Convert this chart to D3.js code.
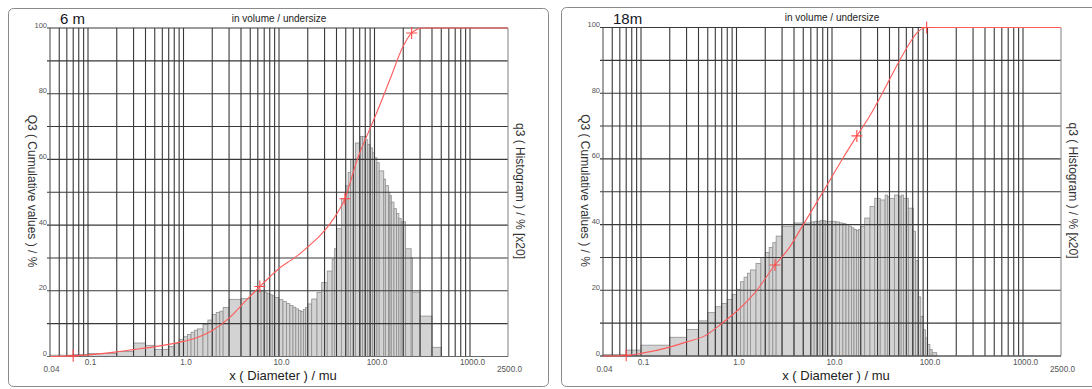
<!DOCTYPE html>
<html>
<head>
<meta charset="utf-8">
<script src="https://cdn.jsdelivr.net/npm/d3@7"></script>
<style>
  html, body { margin: 0; padding: 0; background: #fff; }
  svg { display: block; font-family: "Liberation Sans", Arial, sans-serif; }
</style>
</head>
<body>
<svg id="chart" width="1092" height="389"></svg>
<script>
// Size classes of the analyser (µm), class boundaries
const classEdges = [0.04, 0.07, 0.1, 0.2, 0.3, 0.4, 0.5, 0.6, 0.7, 0.8, 0.9, 1.0, 1.1, 1.2, 1.3, 1.4, 1.6, 1.8, 2.0, 2.2,
  2.4, 2.6, 3, 4, 5, 6, 6.5, 7, 7.5, 8, 8.5, 9, 10, 11, 12, 13, 14, 15, 16, 17,
  18, 19, 20, 22, 25, 28, 32, 36, 38, 40, 45, 50, 53, 56, 63, 71, 75, 80, 85, 90,
  95, 100, 106, 112, 125, 130, 140, 145, 150, 160, 170, 180, 190, 200, 212, 242, 250, 300, 400, 500];

// q3 histogram (x20) per class, sample at 6 m
const q3Hist6m = [0.4, 0.6, 0.9, 1.5, 4.1, 3.4, 2.1, 2.1, 3.0, 4.0, 5.1, 6.0, 6.7, 7.4, 8.0, 8.4, 9.8, 11.1, 12.8, 13.4,
  13.8, 14.9, 17.4, 17.6, 20.0, 20.2, 20.0, 19.6, 19.2, 18.8, 18.5, 18.0, 17.3, 16.7, 16.1, 15.5, 15.0, 14.5, 14.0, 13.7,
  14.3, 14.9, 16.0, 17.5, 19.5, 22.5, 26.0, 29.5, 32.8, 38.9, 48.0, 52.0, 56.0, 60.0, 65.0, 67.0, 67.0, 66.0, 64.5, 63.5,
  62.0, 60.5, 59.0, 56.5, 54.0, 52.0, 50.0, 49.0, 47.0, 45.0, 43.5, 42.0, 41.0, 41.0, 32.8, 30.0, 19.6, 12.3, 2.8];

// q3 histogram (x20) per class, sample at 18 m
const q3Hist18m = [0.4, 1.8, 3.3, 5.7, 8.1, 10.7, 13.2, 15.0, 16.0, 17.2, 18.7, 20.3, 22.6, 24.0, 25.2, 26.2, 28.2, 30.0, 31.5, 33.0,
  34.5, 36.5, 39.5, 40.5, 40.5, 40.8, 41.0, 41.0, 41.2, 41.2, 41.0, 41.0, 41.0, 40.8, 40.5, 40.3, 40.0, 39.5, 39.0, 38.5,
  38.2, 38.5, 39.5, 42.0, 45.5, 48.0, 47.5, 49.0, 48.5, 48.0, 49.0, 48.5, 49.0, 48.0, 45.0, 38.0, 29.0, 18.0, 12.0, 8.0,
  5.5, 3.5, 2.0, 1.0, 0, 0, 0, 0, 0, 0, 0, 0, 0, 0, 0, 0, 0, 0, 0];

// Q3 cumulative undersize curve, 6 m
const cumSizes6m  = [0.04, 0.07, 0.1, 0.2, 0.3, 0.5, 0.7, 1.0, 1.4, 2.0, 3.0, 4.5, 6.3, 8, 10, 13, 16.6, 21, 27, 34,
  42, 49, 56, 63, 71, 80, 90, 110, 145, 200, 245, 280, 320, 2500];
const cumValues6m = [0, 0.2, 0.5, 1.4, 2.1, 3.0, 3.7, 4.6, 5.8, 7.9, 11.7, 17, 21.3, 24.2, 26.8, 29.1, 31.3, 33.9, 36.9, 40.3,
  44.3, 48, 53.2, 58.2, 62.4, 66, 69.5, 75.5, 84.3, 94.5, 98.5, 99.6, 100, 100];
const markerSizes6m = [0.07, 6.3, 49, 245];

// Q3 cumulative undersize curve, 18 m
const cumSizes18m  = [0.04, 0.07, 0.1, 0.2, 0.3, 0.47, 0.7, 1.04, 1.56, 2.53, 3.5, 5, 7, 10, 13, 18.2, 25, 35, 51.5, 65,
  77, 98, 2500];
const cumValues18m = [0, 0.2, 0.8, 2.7, 4.3, 6.2, 9.9, 14, 19.3, 27.7, 32.6, 40, 47, 54.6, 60.2, 67, 73.2, 80.9, 90.2, 95.2,
  98.3, 100, 100];
const markerSizes18m = [0.07, 2.53, 18.2, 98];

const panelTitles = ["6 m", "18m"];
const subtitle = "in volume / undersize";
const xTickValues = [0.1, 1, 10, 100, 1000];
const xTickLabels = ["0.1", "1.0", "10.0", "100.0", "1000.0"];
const xEndValues = [0.04, 2500];
const xEndLabels = ["0.04", "2500.0"];
const yTickValues = [0, 20, 40, 60, 80, 100];
const xTitle = "x ( Diameter ) / mu";
const yTitleLeft = "Q3 ( Cumulative values ) / %";
const yTitleRight = "q3 ( Histogram ) / % [x20]";

const svg = d3.select("#chart");

// log-paper grid: 1..9 x 10^k between 0.05 and 1000
const gridDiameters = [];
[0.01, 0.1, 1, 10, 100, 1000].forEach(dec => {
  for (let m = 1; m <= 9; m++) {
    const v = +(m * dec).toPrecision(3);
    if (v >= 0.05 && v <= 1000) gridDiameters.push(v);
  }
});
const gridLevels = d3.range(0, 101, 10);

function drawPanel(opt) {
  const g = svg.append("g").attr("transform", `translate(${opt.dx},${opt.dy})`);

  g.append("rect")
    .attr("x", 8.5).attr("y", opt.frameY).attr("width", opt.frameW).attr("height", 386.5 - opt.frameY - opt.dy)
    .attr("rx", 5).attr("fill", "none").attr("stroke", "#8a8a8a").attr("stroke-width", 1);

  const x = d3.scaleLog().domain([0.04, 2500]).range([50, 508]);
  const y = d3.scaleLinear().domain([0, 100]).range([356.5, 28]);

  // histogram classes
  const bins = opt.hist.map((v, i) => ({ x0: classEdges[i], x1: classEdges[i + 1], v }))
    .filter(d => d.v > 0);
  g.append("g").selectAll("rect").data(bins).join("rect")
    .attr("x", d => x(d.x0))
    .attr("width", d => x(d.x1) - x(d.x0))
    .attr("y", d => y(d.v))
    .attr("height", d => y(0) - y(d.v))
    .attr("fill", "#d3d3d3")
    .attr("stroke", "#8f8f8f")
    .attr("stroke-width", 0.8);

  // grid over the bars
  const grid = g.append("g").attr("stroke", "#383838").attr("stroke-width", 1.1);
  grid.selectAll("line.v").data(gridDiameters).join("line").attr("class", "v")
    .attr("x1", d => x(d)).attr("x2", d => x(d))
    .attr("y1", y(0)).attr("y2", y(100));
  grid.selectAll("line.h").data(gridLevels).join("line").attr("class", "h")
    .attr("x1", 47).attr("x2", 508)
    .attr("y1", d => y(d)).attr("y2", d => y(d));

  // plot frame (left, right, bottom)
  g.append("line").attr("x1", 50).attr("x2", 50).attr("y1", y(0)).attr("y2", y(100))
    .attr("stroke", "#555").attr("stroke-width", 1.1);
  g.append("line").attr("x1", 508).attr("x2", 508).attr("y1", y(0)).attr("y2", y(100))
    .attr("stroke", "#8a8a8a").attr("stroke-width", 1.1);
  g.append("line").attr("x1", 47).attr("x2", 508).attr("y1", y(0)).attr("y2", y(0))
    .attr("stroke", "#6a6a6a").attr("stroke-width", 1.1);

  // y tick labels
  const yAxis = g.append("g").attr("transform", "translate(47,-1)")
    .call(d3.axisLeft(y).tickValues(yTickValues).tickSize(0).tickPadding(0).tickFormat(d3.format("d")));
  yAxis.select(".domain").remove();
  yAxis.selectAll("text").attr("font-size", 7.5).attr("fill", "#555").attr("dy", 0)
    .attr("font-family", "Liberation Sans, Arial, sans-serif");

  // x tick labels
  const xAxis = g.append("g").attr("transform", "translate(2,365)")
    .call(d3.axisBottom(x).tickValues(xTickValues).tickSize(0).tickPadding(0)
      .tickFormat((d, i) => xTickLabels[i]));
  xAxis.select(".domain").remove();
  xAxis.selectAll("text").attr("font-size", 8.2).attr("fill", "#555").attr("dy", 0)
    .attr("font-family", "Liberation Sans, Arial, sans-serif");

  const xEnds = g.append("g").attr("transform", "translate(1,372)")
    .call(d3.axisBottom(x).tickValues(xEndValues).tickSize(0).tickPadding(0)
      .tickFormat((d, i) => xEndLabels[i]));
  xEnds.select(".domain").remove();
  xEnds.selectAll("text").attr("font-size", 8.2).attr("fill", "#555").attr("dy", 0)
    .attr("font-family", "Liberation Sans, Arial, sans-serif");

  // cumulative curve
  const pts = opt.cumSizes.map((s, i) => [s, opt.cumValues[i]]);
  const line = d3.line().x(d => x(d[0])).y(d => y(d[1])).curve(d3.curveMonotoneX);
  g.append("path").datum(pts).attr("d", line)
    .attr("fill", "none").attr("stroke", "#ff5b5b").attr("stroke-width", 1.1);

  const marks = opt.markers.map(s => [s, opt.cumValues[opt.cumSizes.indexOf(s)]]);
  g.append("g").selectAll("path").data(marks).join("path")
    .attr("transform", d => `translate(${x(d[0])},${y(d[1])})`)
    .attr("d", "M-5.5,0H5.5M0,-6V6")
    .attr("stroke", "#ff4a4a").attr("stroke-width", 1.1).attr("fill", "none");

  // titles
  g.append("text").attr("x", 60).attr("y", 24).attr("font-size", 15).attr("fill", "#151525")
    .text(opt.title);
  g.append("text").attr("x", 279).attr("y", 21.5).attr("text-anchor", "middle")
    .attr("font-size", 10).attr("fill", "#222").text(subtitle);
  g.append("text").attr("x", 283).attr("y", 380).attr("text-anchor", "middle")
    .attr("font-size", 13).attr("fill", "#222").text(xTitle);
  g.append("text").attr("transform", "translate(28,191) rotate(90)").attr("text-anchor", "middle")
    .attr("font-size", 12).attr("fill", "#333").text(yTitleLeft);
  g.append("text").attr("transform", "translate(515.5,191) rotate(90)").attr("text-anchor", "middle")
    .attr("font-size", 12).attr("fill", "#333").text(yTitleRight);
}

drawPanel({ dx: 0, dy: 0, frameY: 8.5, frameW: 540, title: panelTitles[0], hist: q3Hist6m,
  cumSizes: cumSizes6m, cumValues: cumValues6m, markers: markerSizes6m });
drawPanel({ dx: 553, dy: -0.5, frameY: 8, frameW: 600, title: panelTitles[1], hist: q3Hist18m,
  cumSizes: cumSizes18m, cumValues: cumValues18m, markers: markerSizes18m });
</script>
</body>
</html>
